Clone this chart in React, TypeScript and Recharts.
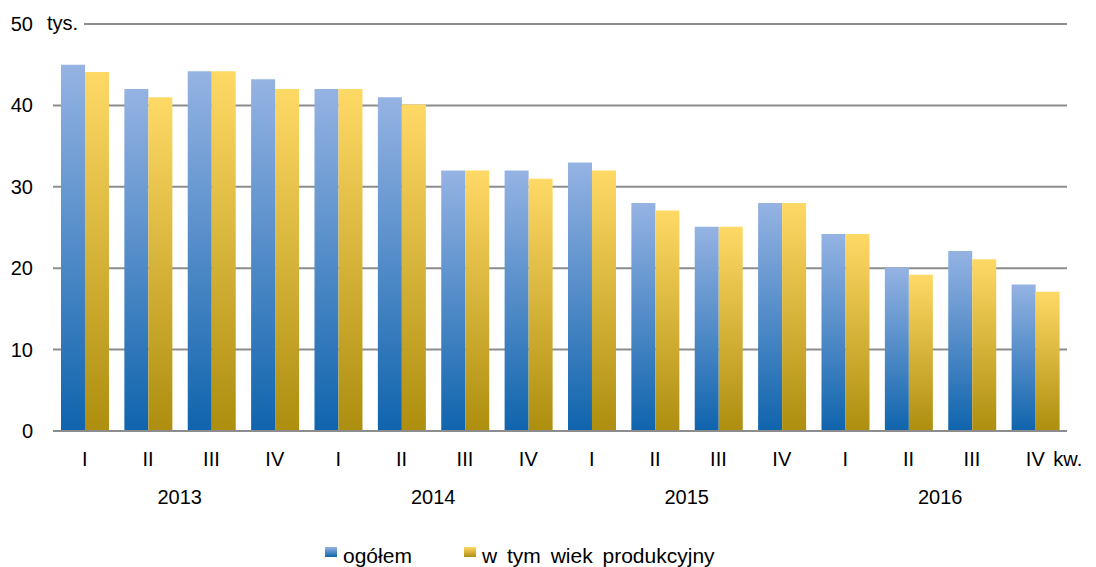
import { BarChart, Bar, XAxis, YAxis, CartesianGrid, Legend } from 'recharts';

const quarters = ['I', 'II', 'III', 'IV', 'I', 'II', 'III', 'IV', 'I', 'II', 'III', 'IV', 'I', 'II', 'III', 'IV'];
const years = ['2013', '2014', '2015', '2016'];
const ogolem = [45, 42, 44.2, 43.2, 42, 41, 32, 32, 33, 28, 25.1, 28, 24.2, 20.1, 22.1, 18];
const produkcyjny = [44.1, 41, 44.2, 42, 42, 40.1, 32, 31, 32, 27.1, 25.1, 28, 24.2, 19.2, 21.1, 17.1];
const yTicks = [0, 10, 20, 30, 40, 50];

const data = quarters.map((q, i) => ({
  q,
  year: years[Math.floor(i / 4)],
  ogolem: ogolem[i],
  produkcyjny: produkcyjny[i],
}));

const FONT = '"Liberation Sans", Arial, sans-serif';
const FS = 20;
const HALF_BAND = 31.7;

const QuarterTick = (props: any) => {
  const { x, y, payload, index } = props;
  return (
    <g>
      <text x={x} y={y} dy={27} textAnchor="middle" fontSize={FS} fontFamily={FONT} fill="#000">
        {payload.value}
      </text>
      {index % 4 === 1 && (
        <text x={x + HALF_BAND} y={y} dy={65} textAnchor="middle" fontSize={FS} fontFamily={FONT} fill="#000">
          {data[index].year}
        </text>
      )}
      {index === quarters.length - 1 && (
        <text x={x + 18} y={y} dy={27} textAnchor="start" fontSize={FS} fontFamily={FONT} fill="#000">
          kw.
        </text>
      )}
    </g>
  );
};

const ValueTick = (props: any) => {
  const { x, y, payload } = props;
  return (
    <g>
      {payload.value === 50 && (
        <>
          <rect x={x - 1} y={y - 14} width={40} height={28} fill="#fff" />
          <text x={x + 2} y={y} dy={6} textAnchor="start" fontSize={FS} fontFamily={FONT} fill="#000">
            tys.
          </text>
        </>
      )}
      <text x={x - 12} y={y} dy={7} textAnchor="end" fontSize={FS} fontFamily={FONT} fill="#000">
        {payload.value}
      </text>
    </g>
  );
};

const LegendBox = () => (
  <div style={{ position: 'relative', height: 56, fontFamily: FONT, fontSize: 21, color: '#000' }}>
    <span style={{ position: 'absolute', left: 325, top: 36, width: 12, height: 10, background: 'linear-gradient(#95b3e3, #1064ac)' }} />
    <span style={{ position: 'absolute', left: 343, top: 33, lineHeight: '24px' }}>ogółem</span>
    <span style={{ position: 'absolute', left: 464, top: 36, width: 12, height: 10, background: 'linear-gradient(#ffd966, #ae8e0e)' }} />
    <span style={{ position: 'absolute', left: 482, top: 33, lineHeight: '24px', wordSpacing: 4 }}>w tym wiek produkcyjny</span>
  </div>
);

export default function App() {
  return (
    <div style={{ position: 'absolute', left: 0, top: 0, background: '#fff' }}>
      <BarChart
        width={1096}
        height={567}
        data={data}
        margin={{ top: 24, right: 29, left: 0, bottom: 0 }}
        barCategoryGap="12.6%"
        barGap={0}
      >
        <defs>
          <linearGradient id="gBlue" x1="0" y1="0" x2="0" y2="1">
            <stop offset="0%" stopColor="#95b3e3" />
            <stop offset="100%" stopColor="#0f64ad" />
          </linearGradient>
          <linearGradient id="gYellow" x1="0" y1="0" x2="0" y2="1">
            <stop offset="0%" stopColor="#ffd966" />
            <stop offset="100%" stopColor="#ad8e0e" />
          </linearGradient>
        </defs>
        <CartesianGrid vertical={false} stroke="#8c8c8c" strokeWidth={2} />
        <XAxis
          dataKey="q"
          height={80}
          axisLine={{ stroke: '#8c8c8c', strokeWidth: 2 }}
          tickLine={false}
          interval={0}
          tick={<QuarterTick />}
        />
        <YAxis
          width={53}
          domain={[0, 50]}
          ticks={yTicks}
          axisLine={false}
          tickLine={false}
          tick={<ValueTick />}
        />
        <Legend verticalAlign="bottom" height={56} content={<LegendBox />} />
        <Bar dataKey="ogolem" name="ogółem" fill="url(#gBlue)" isAnimationActive={false} />
        <Bar dataKey="produkcyjny" name="w tym wiek produkcyjny" fill="url(#gYellow)" isAnimationActive={false} />
      </BarChart>
    </div>
  );
}
